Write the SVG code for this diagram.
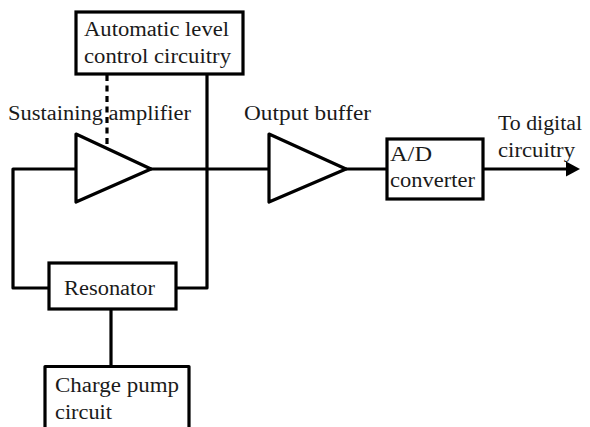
<svg xmlns="http://www.w3.org/2000/svg" width="590" height="427" viewBox="0 0 590 427">
<defs>
<style>
.s{fill:#fff;stroke:#000;stroke-width:3.200;stroke-linejoin:miter}
.c{fill:none;stroke:#000;stroke-width:3.200;stroke-linejoin:round}
.t{font-family:"Liberation Serif","Times New Roman",serif;font-size:20px;fill:#1a1a1a}
</style>
</defs>
<rect width="590" height="427" fill="#fff"/>
<g id="connectors">
<path class="c" d="M76,169H13V288H50"/>
<path class="c" d="M151,169H269"/>
<path class="c" d="M176,288H207V75"/>
<path class="c" d="M346,169H387"/>
<path class="c" d="M483,169H566"/>
<path d="M566,161.500L580,169L566,176.500Z" fill="#000"/>
<path class="c" d="M111,309V366"/>
<path class="c" d="M107,75V149" stroke-dasharray="6 4.500"/>
</g>
<g id="alc"><rect class="s" x="76" y="12" width="167" height="62"/>
<text class="t" x="84" y="36" textLength="145" lengthAdjust="spacingAndGlyphs">Automatic level</text>
<text class="t" x="84" y="63" textLength="147" lengthAdjust="spacingAndGlyphs">control circuitry</text></g>
<g id="sustaining-amplifier"><path class="c" d="M76,134L151,169L76,202Z"/>
<text class="t" x="8" y="120" textLength="183" lengthAdjust="spacingAndGlyphs">Sustaining amplifier</text></g>
<g id="output-buffer"><path class="c" d="M269,134L346,169L269,202Z"/>
<text class="t" x="244" y="120" textLength="127" lengthAdjust="spacingAndGlyphs">Output buffer</text></g>
<g id="adc"><rect class="s" x="387" y="139" width="96" height="60"/>
<text class="t" x="390" y="161" textLength="42" lengthAdjust="spacingAndGlyphs">A/D</text>
<text class="t" x="390" y="187" textLength="85" lengthAdjust="spacingAndGlyphs">converter</text></g>
<g id="digital"><text class="t" x="498" y="130" textLength="84" lengthAdjust="spacingAndGlyphs">To digital</text>
<text class="t" x="498" y="157" textLength="77" lengthAdjust="spacingAndGlyphs">circuitry</text></g>
<g id="resonator"><rect class="s" x="49" y="263" width="127" height="46"/>
<text class="t" x="64" y="295" textLength="91" lengthAdjust="spacingAndGlyphs">Resonator</text></g>
<g id="charge-pump"><path class="c" d="M45,428V366.500H189V428"/>
<text class="t" x="55" y="392" textLength="124" lengthAdjust="spacingAndGlyphs">Charge pump</text>
<text class="t" x="55" y="419" textLength="57" lengthAdjust="spacingAndGlyphs">circuit</text></g>
</svg>
